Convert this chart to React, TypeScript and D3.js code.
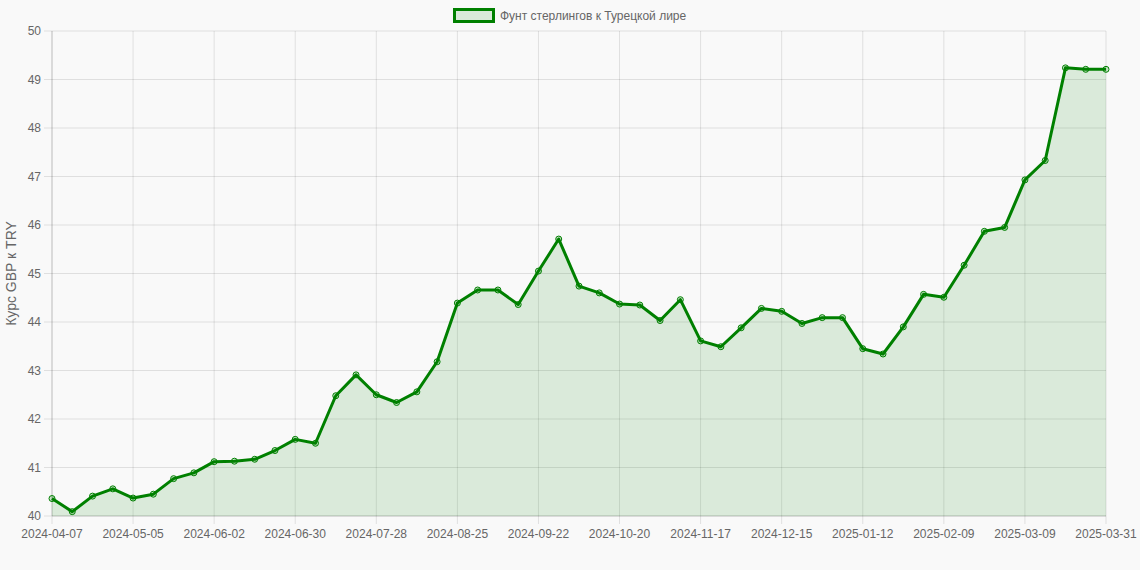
import React, { useEffect } from 'react';
import * as d3 from 'd3';

const dates = [
  '2024-04-07', '2024-04-14', '2024-04-21', '2024-04-28', '2024-05-05', '2024-05-12', '2024-05-19', '2024-05-26',
  '2024-06-02', '2024-06-09', '2024-06-16', '2024-06-23', '2024-06-30', '2024-07-07', '2024-07-14', '2024-07-21',
  '2024-07-28', '2024-08-04', '2024-08-11', '2024-08-18', '2024-08-25', '2024-09-01', '2024-09-08', '2024-09-15',
  '2024-09-22', '2024-09-29', '2024-10-06', '2024-10-13', '2024-10-20', '2024-10-27', '2024-11-03', '2024-11-10',
  '2024-11-17', '2024-11-24', '2024-12-01', '2024-12-08', '2024-12-15', '2024-12-22', '2024-12-29', '2025-01-05',
  '2025-01-12', '2025-01-19', '2025-01-26', '2025-02-02', '2025-02-09', '2025-02-16', '2025-02-23', '2025-03-02',
  '2025-03-09', '2025-03-16', '2025-03-23', '2025-03-30', '2025-03-31',
];

const rates = [
  40.36, 40.09, 40.41, 40.56, 40.37, 40.45, 40.77, 40.89,
  41.12, 41.13, 41.17, 41.35, 41.58, 41.50, 42.48, 42.91,
  42.50, 42.34, 42.56, 43.18, 44.39, 44.66, 44.66, 44.36,
  45.05, 45.71, 44.74, 44.60, 44.37, 44.35, 44.03, 44.46,
  43.61, 43.49, 43.88, 44.28, 44.22, 43.97, 44.09, 44.09,
  43.45, 43.34, 43.90, 44.57, 44.51, 45.17, 45.87, 45.95,
  46.93, 47.33, 49.24, 49.21, 49.21,
];

const yTicks = [40, 41, 42, 43, 44, 45, 46, 47, 48, 49, 50];

const seriesName = 'Фунт стерлингов к Турецкой лире';
const yTitle = 'Курс GBP к TRY';

const W = 1140;
const H = 570;
const margin = { top: 31, right: 34, bottom: 54, left: 52 };
const font = "'Helvetica Neue', Helvetica, Arial, 'Liberation Sans', sans-serif";
const grid = 'rgba(0,0,0,0.1)';
const green = '#008000';

export default function App() {
  useEffect(() => {
    document.body.style.margin = '0';
    document.body.style.background = '#f9f9f9';
  }, []);

  const x = d3.scalePoint<number>()
    .domain(d3.range(dates.length))
    .range([margin.left, W - margin.right]);
  const y = d3.scaleLinear()
    .domain([40, 50])
    .range([H - margin.bottom, margin.top]);

  const line = d3.line<number>()
    .x((_, i) => x(i)!)
    .y(d => y(d));
  const area = d3.area<number>()
    .x((_, i) => x(i)!)
    .y0(y(40))
    .y1(d => y(d));

  const x0 = margin.left;
  const x1 = W - margin.right;
  const y0 = H - margin.bottom;
  const y1 = margin.top;

  return (
    <svg width={W} height={H} style={{ display: 'block', background: '#f9f9f9', fontFamily: font }}>
      {/* grid */}
      {yTicks.map(t => (
        <line key={'h' + t} x1={x0 - 8} x2={x1} y1={y(t)} y2={y(t)} stroke={grid} strokeWidth={1} />
      ))}
      {dates.map((d, i) => (i % 4 === 0 ? (
        <line key={'v' + d} x1={x(i)} x2={x(i)} y1={y1} y2={y0 + 8} stroke={grid} strokeWidth={1} />
      ) : null))}
      <line x1={x0} x2={x0} y1={y1} y2={y0} stroke="rgba(0,0,0,0.15)" />
      <line x1={x0} x2={x1} y1={y0} y2={y0} stroke="rgba(0,0,0,0.15)" />

      {/* y tick labels */}
      {yTicks.map(t => (
        <text key={'yl' + t} x={x0 - 11} y={y(t)} dy="0.35em" textAnchor="end" fontSize={12} fill="#666">{t}</text>
      ))}
      {/* x tick labels */}
      {dates.map((d, i) => (i % 4 === 0 ? (
        <text key={'xl' + d} x={x(i)} y={y0 + 22} textAnchor="middle" fontSize={12} fill="#666">{d}</text>
      ) : null))}

      <text transform={`translate(16,${(y0 + y1) / 2}) rotate(-90)`} textAnchor="middle" fontSize={14} fill="#666">{yTitle}</text>

      {/* series */}
      <path d={area(rates)!} fill="rgba(0,128,0,0.12)" />
      <path d={line(rates)!} fill="none" stroke={green} strokeWidth={3} strokeLinejoin="round" />
      {rates.map((v, i) => (
        <circle key={'p' + i} cx={x(i)} cy={y(v)} r={3} fill="rgba(0,128,0,0.2)" stroke={green} strokeWidth={1} />
      ))}

      {/* legend */}
      <rect x={454.5} y={9.5} width={39} height={12} fill="rgba(0,128,0,0.12)" stroke={green} strokeWidth={3} />
      <text x={500} y={15.5} dy="0.35em" fontSize={12} fill="#666">{seriesName}</text>
    </svg>
  );
}
